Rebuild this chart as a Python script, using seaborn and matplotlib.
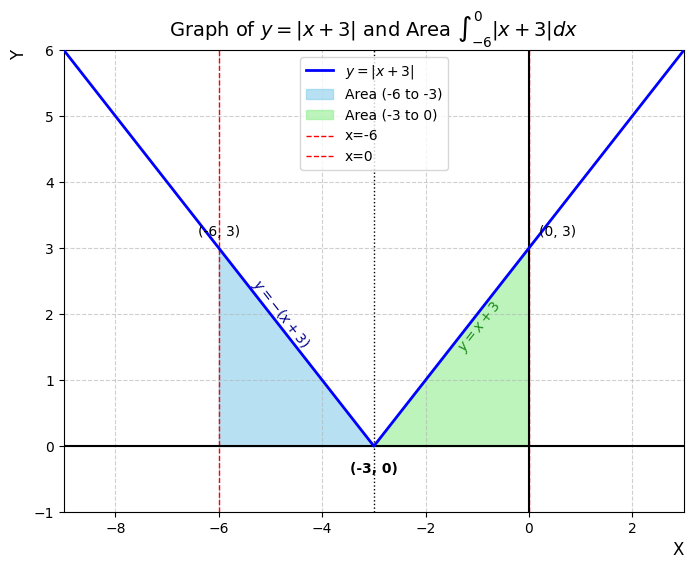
import matplotlib
matplotlib.use('Agg')
import matplotlib.pyplot as plt
import seaborn as sns
import pandas as pd

# Data for y = |x + 3| (vertices of the V)
x_curve = [-9, -3, 3]
y_curve = [6, 0, 6]
# Shaded regions
x_left = [-6, -3]
y_left = [3, 0]
x_right = [-3, 0]
y_right = [0, 3]

plt.rcParams['font.family'] = ['DejaVu Sans']

fig, ax = plt.subplots(figsize=(6.93, 5.69), dpi=100)
fig.subplots_adjust(left=0.092, right=0.987, top=0.912, bottom=0.1)

df = pd.DataFrame({'x': x_curve, 'y': y_curve})
sns.lineplot(data=df, x='x', y='y', ax=ax, color='blue', lw=2,
             label=r'$y = |x + 3|$', zorder=5)

ax.fill_between(x_left, y_left, 0, color='skyblue', alpha=0.6,
                label='Area (-6 to -3)')
ax.fill_between(x_right, y_right, 0, color='lightgreen', alpha=0.6,
                label='Area (-3 to 0)')

ax.axvline(-6, color='red', ls='--', lw=1, label='x=-6')
ax.axvline(0, color='red', ls='--', lw=1, label='x=0')
ax.axhline(0, color='black', lw=1.5)
ax.axvline(0, color='black', lw=1.5)
ax.axvline(-3, color='black', ls=':', lw=1)

ax.text(-6, 3.25, '(-6, 3)', ha='center', va='center', fontsize=10, zorder=6)
ax.text(0.2, 3.25, '(0, 3)', ha='left', va='center', fontsize=10, zorder=6)
ax.text(-3, -0.35, '(-3, 0)', ha='center', va='center', fontsize=10,
        fontweight='bold', zorder=6)

ax.text(-4.8, 2.0, r'$y = -(x + 3)$', color='darkblue', rotation=-52,
        ha='center', va='center', fontsize=10, zorder=6)
ax.text(-0.95, 1.8, r'$y = x + 3$', color='#1a8a1a', rotation=52,
        ha='center', va='center', fontsize=10, zorder=6)

ax.set_xlim(-9, 3)
ax.set_ylim(-1, 6)
ax.set_xticks([-8, -6, -4, -2, 0, 2])
ax.grid(True, ls='--', alpha=0.6)

ax.set_title(r'Graph of $y = |x + 3|$ and Area $\int_{-6}^{0} |x + 3| dx$',
             fontsize=14, pad=8)
ax.set_xlabel('X', fontsize=12, loc='right')
ax.set_ylabel('Y', fontsize=12, loc='top')
ax.legend(loc='upper center', fontsize=10)

fig.savefig('out.png', dpi=100)
